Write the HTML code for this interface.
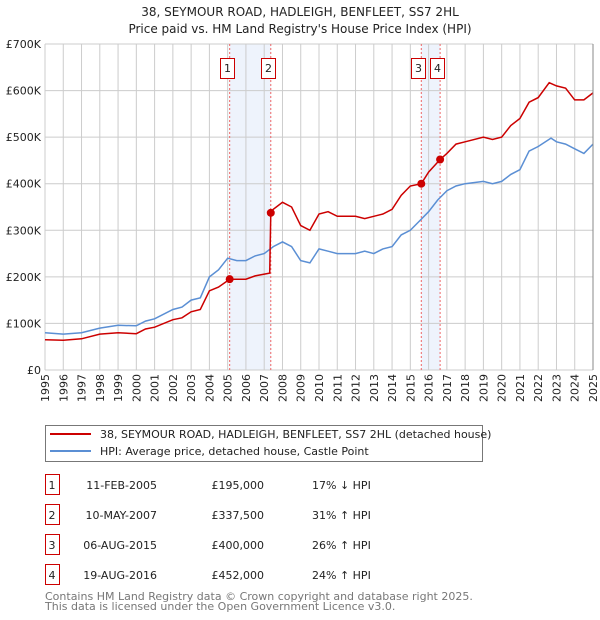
<!DOCTYPE html>
<html><head><meta charset="utf-8"><style>
body{margin:0;width:600px;height:620px;background:#fff;font-family:"DejaVu Sans","Liberation Sans",sans-serif;overflow:hidden}
svg{position:absolute;left:0;top:0}
</style></head><body>
<svg width="600" height="620" id="svg" font-family="DejaVu Sans, Liberation Sans, sans-serif">
<text x="300" y="16" text-anchor="middle" font-size="12" fill="#222">38, SEYMOUR ROAD, HADLEIGH, BENFLEET, SS7 2HL</text>
<text x="300" y="33" text-anchor="middle" font-size="12" fill="#222">Price paid vs. HM Land Registry's House Price Index (HPI)</text>
<g id="plot"></g>
<g>
<rect x="45.5" y="425.5" width="437" height="36" fill="#fff" stroke="#777"/>
<line x1="50" y1="434" x2="91" y2="434" stroke="#cc0000" stroke-width="2"/>
<text x="100" y="438" font-size="11" fill="#222">38, SEYMOUR ROAD, HADLEIGH, BENFLEET, SS7 2HL (detached house)</text>
<line x1="50" y1="451" x2="91" y2="451" stroke="#5b8fd4" stroke-width="2"/>
<text x="100" y="455" font-size="11" fill="#222">HPI: Average price, detached house, Castle Point</text>
</g>
<g id="table" font-size="11" fill="#222"></g>
<text x="45" y="600" font-size="11" fill="#777">Contains HM Land Registry data © Crown copyright and database right 2025.</text>
<text x="45" y="610" font-size="11" fill="#777">This data is licensed under the Open Government Licence v3.0.</text>
</svg>
<script>
const hpiYears=[1995,1996,1997,1998,1999,2000,2000.5,2001,2002,2002.5,2003,2003.5,2004,2004.5,2005,2005.5,2006,2006.5,2007,2007.5,2008,2008.5,2009,2009.5,2010,2010.5,2011,2012,2012.5,2013,2013.5,2014,2014.5,2015,2015.5,2016,2016.5,2017,2017.5,2018,2019,2019.5,2020,2020.5,2021,2021.5,2022,2022.7,2023,2023.5,2024,2024.5,2025];
const hpiValues=[80,77,80,90,96,95,105,110,130,135,150,155,200,215,240,235,235,245,250,265,275,265,235,230,260,255,250,250,255,250,260,265,290,300,320,340,365,385,395,400,405,400,405,420,430,470,480,498,490,485,475,465,485];
const propYears=[1995,1996,1997,1998,1999,2000,2000.5,2001,2002,2002.5,2003,2003.5,2004,2004.5,2005.11,2005.5,2006,2006.5,2007.3,2007.36,2007.5,2008,2008.5,2009,2009.5,2010,2010.5,2011,2012,2012.5,2013,2013.5,2014,2014.5,2015,2015.6,2016,2016.63,2017,2017.5,2018,2019,2019.5,2020,2020.5,2021,2021.5,2022,2022.6,2023,2023.5,2024,2024.5,2025];
const propValues=[65,64,67,77,80,78,88,92,108,112,125,130,170,178,195,195,195,202,208,337.5,345,360,350,310,300,335,340,330,330,325,330,335,345,375,395,400,425,452,465,485,490,500,495,500,525,540,575,585,617,610,605,580,580,595];
const saleIds=["1","2","3","4"];
const saleYears=[2005.11,2007.36,2015.6,2016.63];
const saleValues=[195,337.5,400,452];
const saleDates=["11-FEB-2005","10-MAY-2007","06-AUG-2015","19-AUG-2016"];
const salePrices=["£195,000","£337,500","£400,000","£452,000"];
const saleHpi=["17% ↓ HPI","31% ↑ HPI","26% ↑ HPI","24% ↑ HPI"];
const yTicks=[0,100,200,300,400,500,600,700];
const yTickLabels=["£0","£100K","£200K","£300K","£400K","£500K","£600K","£700K"];
const xTicks=[1995,1996,1997,1998,1999,2000,2001,2002,2003,2004,2005,2006,2007,2008,2009,2010,2011,2012,2013,2014,2015,2016,2017,2018,2019,2020,2021,2022,2023,2024,2025];

const L=45,R=593,T=44,B=370;
const xS=y=>L+(y-1995)/30*(R-L);
const yS=v=>B-v/700*(B-T);
const NS="http://www.w3.org/2000/svg";
const plot=document.getElementById('plot');
function mk(tag,attrs,parent){const e=document.createElementNS(NS,tag);for(const k in attrs)e.setAttribute(k,attrs[k]);(parent||plot).appendChild(e);return e;}

for(const [a,b] of [[0,1],[2,3]]){
  const r=mk('rect',{x:xS(saleYears[a]),y:T,width:xS(saleYears[b])-xS(saleYears[a]),height:B-T,fill:'#eef3fc'});
  
  
}
xTicks.forEach(t=>{
  const l=mk('line',{x1:xS(t),x2:xS(t),y1:T,y2:B,stroke:'#ccc','stroke-width':1});
  
  
  const x=xS(t)+4,y=B+4;
  const tx=mk('text',{x:x,y:y,'text-anchor':'end','font-size':11,fill:'#222',transform:`rotate(-90 ${x} ${y})`});
  tx.textContent=t;
  
  
});
yTicks.forEach((t,i)=>{
  const l=mk('line',{x1:L,x2:R,y1:yS(t),y2:yS(t),stroke:'#ccc','stroke-width':1});
  
  
  const tx=mk('text',{x:L-4,y:yS(t)+4,'text-anchor':'end','font-size':11,fill:'#222'});
  tx.textContent=yTickLabels[i];
  
  
});
saleYears.forEach((y,i)=>{
  const l=mk('line',{x1:xS(y),x2:xS(y),y1:T,y2:B,stroke:'#e66','stroke-width':1,'stroke-dasharray':'2,2'});
  
  
  const rx=Math.round(xS(y)-10);
  const r=mk('rect',{x:rx+0.5,y:58.5,width:14,height:20,fill:'#fff',stroke:'#cc0000'});
  
  
  const t=mk('text',{x:rx+7.5,y:72,'text-anchor':'middle','font-size':11,fill:'#222'});
  t.textContent=saleIds[i];
  
  
});
function path(xs,vs,color,name){
  const d=xs.map((x,i)=>(i?'L':'M')+xS(x).toFixed(1)+','+yS(vs[i]).toFixed(1)).join('');
  const p=mk('path',{d:d,fill:'none',stroke:color,'stroke-width':1.5});
  
  
}
path(hpiYears,hpiValues,'#5b8fd4','hpi-line');
path(propYears,propValues,'#cc0000','property-price-line');
saleYears.forEach((y,i)=>{
  const c=mk('circle',{cx:xS(y),cy:yS(saleValues[i]),r:4,fill:'#cc0000'});
  
  
});
mk('line',{x1:R,x2:R,y1:T,y2:B,stroke:'#888','stroke-width':1});
const tb=document.getElementById('table');
saleIds.forEach((id,i)=>{
  const y=485+i*30;
  const r=mk('rect',{x:45.5,y:y-10.5,width:14,height:20,fill:'#fff',stroke:'#cc0000'},tb);
  
  
  const cells=[[id,52,'middle'],[saleDates[i],157,'end'],[salePrices[i],264,'end'],[saleHpi[i],312,'start']];
  cells.forEach(([s,x,a])=>{
    const t=mk('text',{x:x,y:y+4,'text-anchor':a},tb);
    t.textContent=s;
    
    
  });
});
</script>
</body></html>
